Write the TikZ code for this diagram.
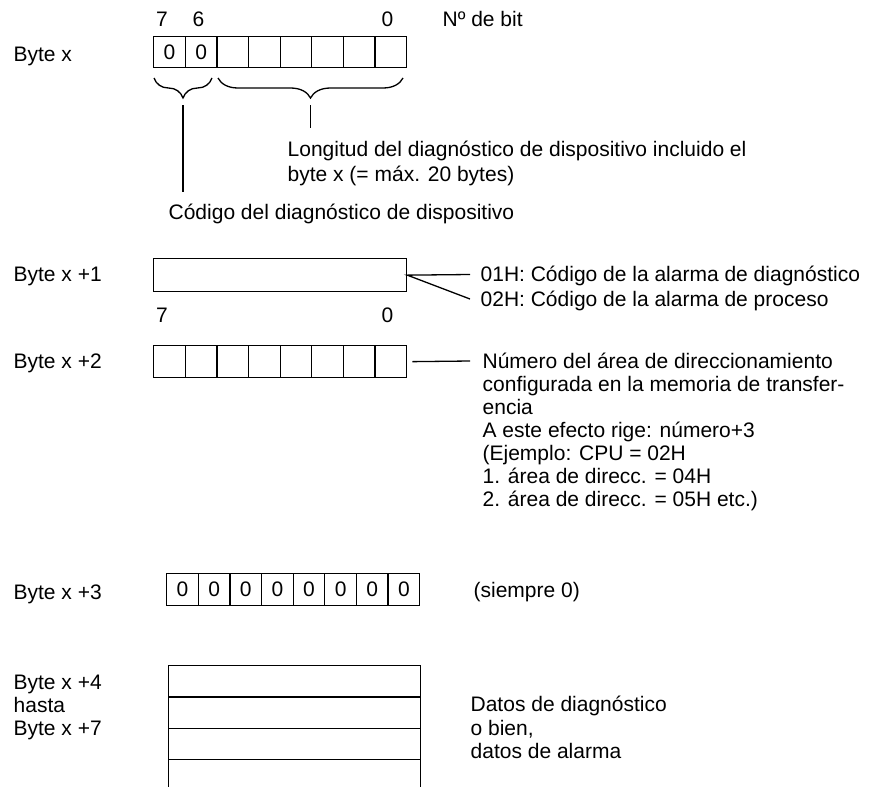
\documentclass[tikz,border=0pt]{standalone}
\usepackage{fontspec}
\setmainfont{Liberation Sans}
\usetikzlibrary{decorations.pathreplacing}
\begin{document}
\begin{tikzpicture}[x=1pt,y=-1pt,line width=1.3pt,
  txtfont/.style={font=\fontsize{21}{23}\selectfont},
  lbl/.style={txtfont,anchor=base west,inner sep=0pt},
  num/.style={txtfont,anchor=base,inner sep=0pt},
  bitcell/.style={draw,txtfont,line width=1.3pt,minimum width=31.625pt,minimum height=#1,inner sep=0pt,anchor=north west},
  bitcell/.default=31pt,
  rowbox/.style={draw,line width=1.3pt,minimum width=252pt,minimum height=31.33pt,inner sep=0pt,anchor=north west},
  curly/.style={decorate,decoration={brace,mirror,amplitude=20pt}}]
\useasboundingbox (0,0) rectangle (870,787);

% ---------- Byte x ----------
\node[lbl] (lbx) at (13,61) {Byte x};
\node[bitcell] (bx0) at (153,36) {0};
\node[bitcell] (bx1) at ({153+31.625},36) {0};
\foreach \i in {2,...,7} \node[bitcell] (bx\i) at ({153+31.625*\i},36) {};
\node[num] (n7a) at (162,27) {7};
\node[num] (n6a) at (198.5,27) {6};
\node[num] (n0a) at (387.5,27) {0};
\node[lbl] (nbit) at (442,27) {Nº de bit};

\coordinate (br1a) at (154,78);
\coordinate (br1b) at (212,78);
\coordinate (br2a) at (218,78);
\coordinate (br2b) at (403,78);
\draw[curly] (br1a) -- (br1b);
\draw[curly] (br2a) -- (br2b);

\coordinate (t1) at (183,105);
\coordinate (e1) at (183,192);
\coordinate (t2) at (310.5,105);
\coordinate (e2) at (310.5,128);
\draw (t1) -- (e1);
\draw (t2) -- (e2);

\node[lbl] (lon1) at (287,156) {Longitud del diagnóstico de dispositivo incluido el};
\node[lbl] (lon2) at (287,181) {byte x (= máx. 20 bytes)};
\node[lbl] (cod) at (168,219) {Código del diagnóstico de dispositivo};

% ---------- Byte x +1 ----------
\node[lbl] (lb1) at (13,281) {Byte x +1};
\node[draw,line width=1.3pt,minimum width=253pt,minimum height=33pt,inner sep=0pt,anchor=north west] (b1) at (153,258) {};
\coordinate (c01) at (470,274.5);
\coordinate (c02) at (470,299);
\draw (c01) -- (b1.east) -- (c02);
\node[lbl] (a01) at (480,281) {01H: Código de la alarma de diagnóstico};
\node[lbl] (a02) at (480,306) {02H: Código de la alarma de proceso};

% ---------- Byte x +2 ----------
\node[num] (n7b) at (162,322) {7};
\node[num] (n0b) at (387.5,322) {0};
\node[lbl] (lb2) at (13,368) {Byte x +2};
\foreach \i in {0,...,7} \node[bitcell=32pt] (b2\i) at ({153+31.625*\i},345) {};
\coordinate (c2) at (470,361);
\draw ([xshift=5pt]b27.east) -- (c2);
\node[lbl] (nr1) at (482,368) {Número del área de direccionamiento};
\node[lbl] (nr2) at (482,391) {configurada en la memoria de transfer-};
\node[lbl] (nr3) at (482,414) {encia};
\node[lbl] (nr4) at (482,437) {A este efecto rige: número+3};
\node[lbl] (nr5) at (482,460) {(Ejemplo: CPU = 02H};
\node[lbl] (nr6) at (482,483) {1. área de direcc. = 04H};
\node[lbl] (nr7) at (482,506) {2. área de direcc. = 05H etc.)};

% ---------- Byte x +3 ----------
\node[lbl] (lb3) at (13,599) {Byte x +3};
\foreach \i in {0,...,7} \node[bitcell=32pt] (b3\i) at ({166+31.625*\i},573) {0};
\node[lbl] (siem) at (473,597) {(siempre 0)};

% ---------- Byte x +4 ... +7 ----------
\node[lbl] (lb4) at (13,689) {Byte x +4};
\node[lbl] (lbh) at (13,712) {hasta};
\node[lbl] (lb7) at (13,735) {Byte x +7};
\foreach \i in {0,...,3} \node[rowbox] (d\i) at (168,{665+31.33*\i}) {};
\node[lbl] (dat1) at (470,711) {Datos de diagnóstico};
\node[lbl] (dat2) at (470,735) {o bien,};
\node[lbl] (dat3) at (470,758) {datos de alarma};
\end{tikzpicture}
\end{document}
